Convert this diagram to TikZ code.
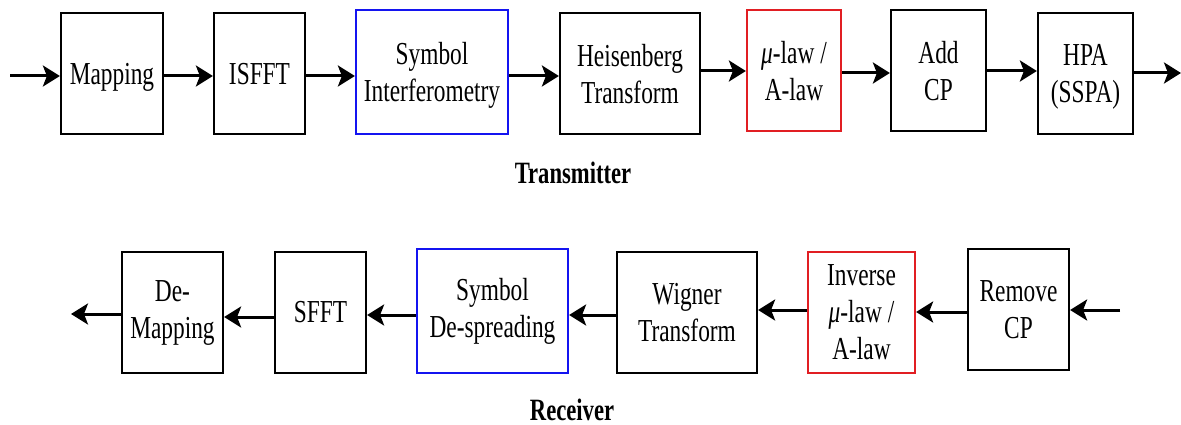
\documentclass[tikz,border=0pt]{standalone}
\usepackage{fontspec}
\setmainfont{Liberation Serif}[FakeStretch=0.73]
\usetikzlibrary{arrows.meta}
\definecolor{siblue}{RGB}{20,20,240}
\definecolor{lawred}{RGB}{225,30,35}
\tikzset{
  blk/.style={draw=black, line width=2.2pt, align=center, inner sep=0pt,
    font=\fontsize{32}{37}\selectfont},
  blkblue/.style={blk, draw=siblue},
  blkred/.style={blk, draw=lawred},
  lowtext/.style={text depth=0pt},
  flow/.style={line width=3pt, -{Stealth[length=17pt,width=21pt,inset=4pt]}},
  caption/.style={font=\fontsize{31}{37}\selectfont\bfseries}
}
\begin{document}
\begin{tikzpicture}[x=1pt,y=-1pt]
\useasboundingbox (0,0) rectangle (1181,425);

% transmitter chain
\begin{scope}[every node/.append style={lowtext}]
\node[blk, minimum width=102, minimum height=121] (map) at (112,73.5) {Mapping};
\node[blk, minimum width=91, minimum height=121] (isfft) at (259.5,73.5) {ISFFT};
\node[blkblue, minimum width=152, minimum height=124] (si) at (432,72) {Symbol\\Interferometry};
\node[blk, minimum width=140, minimum height=121] (ht) at (630,73.5) {Heisenberg\\Transform};
\node[blkred, minimum width=94, minimum height=121] (mu) at (794,70.5) {\textit{μ}-law /\\A-law};
\node[blk, minimum width=95, minimum height=121] (acp) at (938.5,70.5) {Add\\CP};
\node[blk, minimum width=95, minimum height=121] (hpa) at (1085.5,73.5) {HPA\\(SSPA)};
\end{scope}
\node[caption] (tx) at (573,173) {Transmitter};

\coordinate (txin) at (10,76);
\coordinate (txout) at (1181,73);
\draw[flow] (txin) -- (map.west |- txin);
\draw[flow] (map.east |- 0,76) -- (isfft.west |- 0,76);
\draw[flow] (isfft.east |- 0,76) -- (si.west |- 0,76);
\draw[flow] (si.east |- 0,76) -- (ht.west |- 0,76);
\draw[flow] (ht.east |- 0,71) -- (mu.west |- 0,71);
\draw[flow] (mu.east |- 0,73) -- (acp.west |- 0,73);
\draw[flow] (acp.east |- 0,71) -- (hpa.west |- 0,71);
\draw[flow] (hpa.east |- txout) -- (txout);

% receiver chain
\node[blk, minimum width=101, minimum height=121] (dmap) at (172.5,312.5) {De-\\Mapping};
\node[blk, minimum width=91, minimum height=121] (sfft) at (320.5,312.5) {SFFT};
\node[blkblue, minimum width=151, minimum height=124] (sd) at (492.5,311) {Symbol\\De-spreading};
\node[blk, minimum width=140, minimum height=121] (wt) at (687,312.5) {Wigner\\Transform};
\node[blkred, minimum width=107, minimum height=121] (imu) at (861.5,312.5) {Inverse\\\textit{μ}-law /\\A-law};
\node[blk, minimum width=101, minimum height=121] (rcp) at (1018.5,309.5) {Remove\\CP};
\node[caption] (rx) at (572,410) {Receiver};

\coordinate (rxin) at (1120,310);
\coordinate (rxout) at (71,314);
\draw[flow] (rxin) -- (rcp.east |- rxin);
\draw[flow] (rcp.west |- 0,312) -- (imu.east |- 0,312);
\draw[flow] (imu.west |- 0,310) -- (wt.east |- 0,310);
\draw[flow] (wt.west |- 0,315) -- (sd.east |- 0,315);
\draw[flow] (sd.west |- 0,315) -- (sfft.east |- 0,315);
\draw[flow] (sfft.west |- 0,317) -- (dmap.east |- 0,317);
\draw[flow] (dmap.west |- rxout) -- (rxout);
\end{tikzpicture}
\end{document}
